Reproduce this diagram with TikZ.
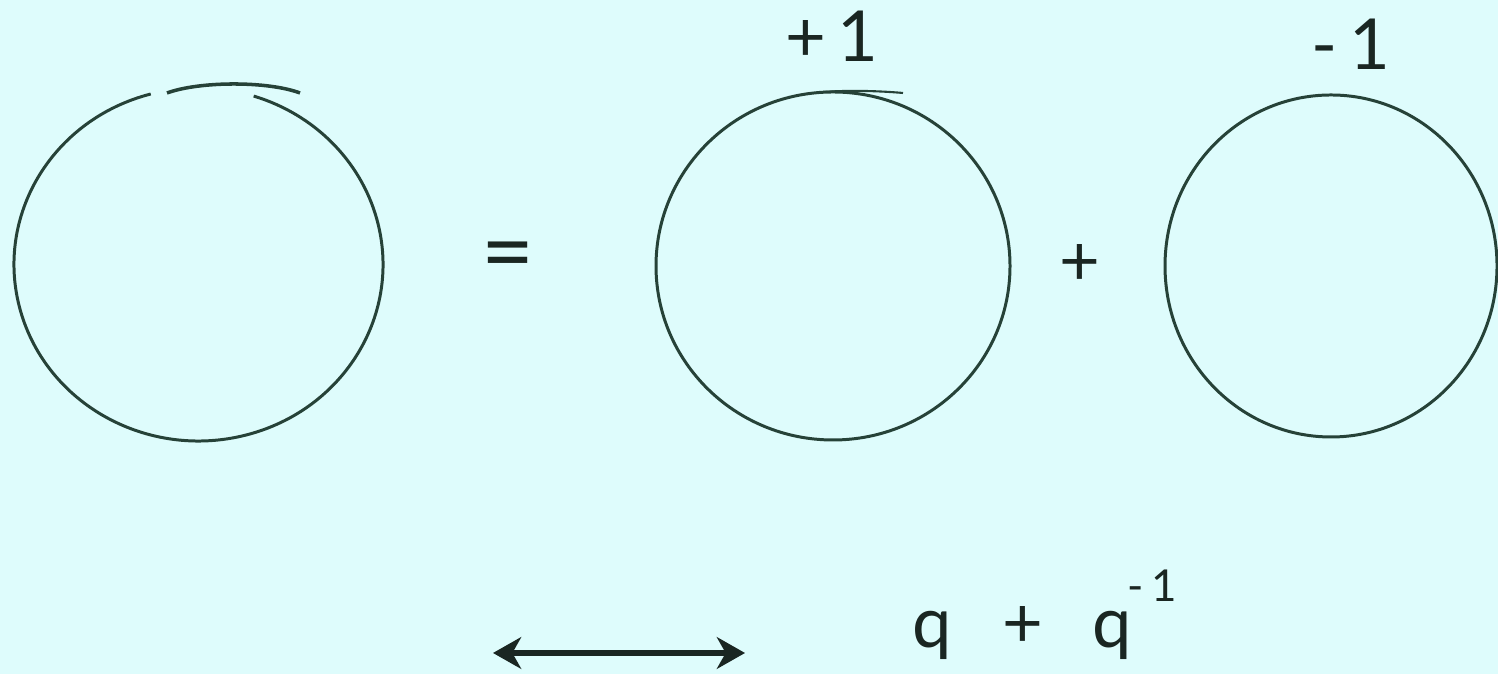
\documentclass[tikz,border=0pt]{standalone}
\usepackage{fontspec}
\setmainfont{Lato}
\usetikzlibrary{arrows.meta}
\definecolor{bgcyan}{RGB}{222,252,252}
\definecolor{ink}{RGB}{38,66,56}
\definecolor{txt}{RGB}{26,38,34}

\begin{document}
\begin{tikzpicture}[x=0.01cm, y=0.01cm,
  >={Stealth[length=8pt, width=9pt, inset=2.5pt]},
  loop/.style={draw=ink, line width=0.85pt},
  sym/.style={text=txt, font=\fontsize{20}{24}\selectfont, inner sep=0pt},
  supr/.style={sym, font=\fontsize{12.5}{15}\selectfont}]
\fill[bgcyan] (0,0) rectangle (1498,674);
\useasboundingbox (0,0) rectangle (1498,674);
% circles
\coordinate (c1) at (198.5,409.5);
\coordinate (c2) at (833,408);
\coordinate (c3) at (1331,408);
\draw[loop] (c1) ++(105:184.5 and 176.5) arc[start angle=105, end angle=432.6, x radius=184.5, y radius=176.5];
\draw[loop, line width=1pt] (167,581) .. controls (200,593) and (268,593) .. (300,581);
\draw[loop] (c2) ellipse[x radius=177, y radius=174];
\draw[loop, line width=0.6pt] (823,582) .. controls (850,584) and (880,583) .. (903,581);
\draw[loop] (c3) ellipse[x radius=166, y radius=171];
% signs and weights
\node[sym, font=\fontsize{26}{30}\selectfont] (eq) at (508,411) {=};
\node[sym] (plus) at (1080,409) {+};
\node[sym, anchor=base] (wplus) at (832,612) {+\,1};
\node[sym, anchor=base] (wminus) at (1351,604) {-\,1};
% correspondence
\coordinate (al) at (493,21);
\coordinate (ar) at (745,21);
\draw[<->, draw=txt, line width=1.5pt] (al) -- (ar);
\node[sym, anchor=base] (q1) at (932,26) {q};
\node[sym, anchor=base] (qp) at (1023,26) {+};
\node[sym, anchor=base] (q2) at (1112,26) {q};
\node[supr, anchor=base west] (qe) at (1127,72) {-\,1};
\end{tikzpicture}
\end{document}
